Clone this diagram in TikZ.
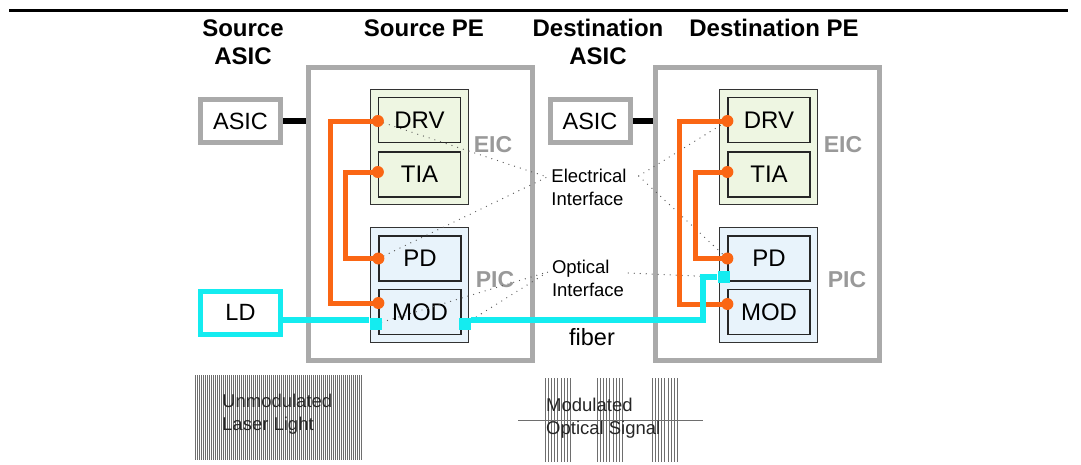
\documentclass[tikz,border=0pt]{standalone}
\usepackage{fontspec}
\setmainfont{Liberation Sans}
\definecolor{framegray}{RGB}{170,170,170}
\definecolor{eicgreen}{RGB}{238,246,226}
\definecolor{picblue}{RGB}{232,243,251}
\definecolor{wireorange}{RGB}{250,102,20}
\definecolor{fibercyan}{RGB}{20,236,240}
\definecolor{wavegray}{RGB}{110,110,110}

\begin{document}
\begin{tikzpicture}[x=1pt,y=-1pt,
  pe/.style={draw=framegray, line width=5pt, minimum width=224, minimum height=293, inner sep=0},
  asicbox/.style={draw=framegray, line width=5pt, minimum width=80, minimum height=43, inner sep=0,
    font=\fontsize{23.5}{28}\selectfont},
  ldbox/.style={asicbox, draw=fibercyan},
  group/.style={draw=black!80, line width=1.3pt, minimum width=98, minimum height=115, inner sep=0},
  chip/.style={draw=black!85, line width=1.3pt, minimum width=82, minimum height=45, inner sep=0,
    font=\fontsize{24}{28}\selectfont},
  tag/.style={text=gray!80, font=\bfseries\fontsize{23}{28}\selectfont},
  head/.style={align=center, font=\bfseries\fontsize{24}{28}\selectfont},
  note/.style={align=left, inner sep=4pt, font=\fontsize{18.5}{23}\selectfont},
  pad/.style={fill=fibercyan, minimum size=12, inner sep=0},
  elink/.style={draw=wireorange, line width=5pt},
  olink/.style={draw=fibercyan, line width=6pt},
  hint/.style={draw=black!65, line width=1.3pt, line cap=round, dash pattern=on 0pt off 6pt},
  wave/.style={draw=wavegray, line width=0.7pt}]

\useasboundingbox (0,0) rectangle (1081,464);
\draw [line width=3pt] (9,10) -- (1068,10);

% column headings
\node [head] (hsasic) at (243,42) {Source\\ASIC};
\node [head] (hspe)   at (424,28) {Source PE};
\node [head] (hdasic) at (598,42) {Destination\\ASIC};
\node [head] (hdpe)   at (774,28) {Destination PE};

% source side
\node [pe]      (spe)   at (420.5,214) {};
\node [asicbox] (sasic) at (240.5,121) {ASIC};
\node [ldbox]   (ld)    at (240.5,312.5) {LD};
\node [group, fill=eicgreen] (seic) at (419.5,147) {};
\node [group, fill=picblue]  (spic) at (419.5,285) {};
\node [chip, fill=eicgreen] (sdrv) at (419.5,120)   {DRV};
\node [chip, fill=eicgreen] (stia) at (419.5,174.5) {TIA};
\node [chip, fill=picblue]  (spd)  at (420,258.5)   {PD};
\node [chip, fill=picblue]  (smod) at (420,312)     {MOD};
\node [tag] (seictag) at (493,145) {EIC};
\node [tag] (spictag) at (495,280) {PIC};

% destination side
\node [pe]      (dpe)   at (767,214) {};
\node [asicbox] (dasic) at (590,121) {ASIC};
\node [group, fill=eicgreen] (deic) at (768.5,147) {};
\node [group, fill=picblue]  (dpic) at (768.5,285) {};
\node [chip, fill=eicgreen] (ddrv) at (769,120)   {DRV};
\node [chip, fill=eicgreen] (dtia) at (769,174.5) {TIA};
\node [chip, fill=picblue]  (dpd)  at (769,258.5) {PD};
\node [chip, fill=picblue]  (dmod) at (769,312)   {MOD};
\node [tag] (deictag) at (843,145) {EIC};
\node [tag] (dpictag) at (847,280) {PIC};

% interface labels
\node [note] (elec)  at (589,187) {Electrical\\Interface};
\node [note] (optic) at (588,278) {Optical\\Interface};
\node [font=\fontsize{23.5}{28}\selectfont] (fiber) at (592,337) {fiber};

% ASIC to PE links
\draw [line width=6pt] (sasic.east) -- (sasic.east -| spe.west);
\draw [line width=6pt] (dasic.east) -- (dasic.east -| dpe.west);

% fiber pads
\node [pad] (sin)  at (375.5,324) {};
\node [pad] (sout) at (465,324) {};
\node [pad] (din)  at (723.5,277) {};

% dotted hints
\draw [hint] ([yshift=-1pt]sdrv.west) -- ([yshift=10pt]elec.west);
\draw [hint] (spd.west) -- ([yshift=10pt]elec.west);
\draw [hint] (sin) -- ([yshift=6pt]optic.west);
\draw [hint] (sout) -- ([yshift=6pt]optic.west);
\draw [hint] ([xshift=8pt,yshift=11pt]elec.east) -- ([yshift=-1pt]ddrv.west);
\draw [hint] ([xshift=8pt,yshift=11pt]elec.east) -- (dpd.west);
\draw [hint] ([yshift=5pt]optic.east) -- (din.west);

% electrical wires
\draw [elink] ([yshift=-1pt]sdrv.west) -- ++(-47,0) |- ([yshift=9pt]smod.west);
\draw [elink] ([yshift=2.5pt]stia.west) -- ++(-32,0) |- (spd.west);
\draw [elink] ([yshift=-1pt]ddrv.west) -- ++(-48,0) |- ([yshift=8pt]dmod.west);
\draw [elink] ([yshift=2.5pt]dtia.west) -- ++(-32,0) |- (dpd.west);
\foreach \p/\s in {sdrv/-1, stia/2.5, spd/0, smod/9, ddrv/-1, dtia/2.5, dpd/0, dmod/8}
  \fill [wireorange] ([yshift=\s pt]\p.west) circle (6);

% fiber
\draw [olink] ([yshift=-7.5pt]ld.east) -- ([yshift=4pt]sin.west);
\draw [olink] ([yshift=4pt]sout.east) -- ++(232,0) |- (din.west);
\node [pad] at (sin) {};
\node [pad] at (sout) {};
\node [pad] at (din) {};

% light waveforms
\foreach \i in {0,...,83}
  \draw [wave] (195+2*\i,375) -- ++(0,85);
\draw [wave] (518,420) -- (703,420);
\foreach \a in {545, 597, 652}
  \foreach \i in {0,...,8}
    \draw [wave] (\a+3.2*\i,378) -- ++(0,84);
\node [note, anchor=west, text=black!85] (unmodtxt) at (218,414) {Unmodulated\\Laser Light};
\node [note, anchor=west, text=black!85] (modtxt)   at (542,418) {Modulated\\Optical Signal};

\end{tikzpicture}
\end{document}
